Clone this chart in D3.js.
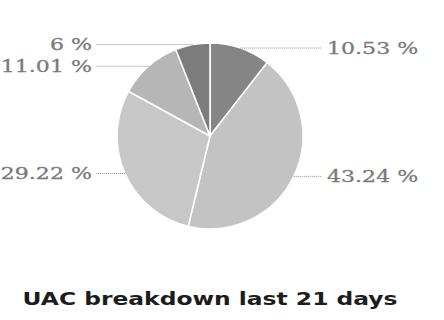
<!DOCTYPE html>
<html>
<head>
<meta charset="utf-8">
<script src="https://cdn.jsdelivr.net/npm/d3@7"></script>
<style>
  html, body { margin: 0; padding: 0; background: #ffffff; }
  svg { display: block; }
</style>
</head>
<body>
<svg id="chart" width="444" height="320"></svg>
<script>
// Share of each UAC category, clockwise from 12 o'clock
const labels = ["10.53 %", "43.24 %", "29.22 %", "11.01 %", "6 %"];
const shares = [10.53, 43.24, 29.22, 11.01, 6];
const sliceColors = ["#858585", "#c3c3c3", "#c7c7c7", "#b6b6b6", "#7c7c7c"];
const title = "UAC breakdown last 21 days";

const svg = d3.select("#chart");
const cx = 210, cy = 136, r = 93;
const stretch = 1.3;          // wide lettering used throughout
const leftEdge = 96, rightEdge = 322;

const pie = d3.pie().sort(null).value(d => d)(shares);
const arc = d3.arc().innerRadius(0).outerRadius(r);

const g = svg.append("g").attr("transform", `translate(${cx},${cy})`);

g.selectAll("path.slice")
  .data(pie)
  .join("path")
  .attr("class", "slice")
  .attr("d", arc)
  .attr("fill", (d, i) => sliceColors[i])
  .attr("stroke", "#ffffff")
  .attr("stroke-width", 1.6)
  .attr("stroke-linejoin", "round");

// Leader lines run horizontally from the middle of each slice's rim
const rimPoint = d => {
  const a = (d.startAngle + d.endAngle) / 2;
  return [cx + r * Math.sin(a), cy - r * Math.cos(a)];
};

const lab = svg.append("g");
pie.forEach((d, i) => {
  const [px, py] = rimPoint(d);
  const right = px >= cx;
  lab.append("line")
    .attr("x1", px).attr("y1", py)
    .attr("x2", right ? rightEdge : leftEdge).attr("y2", py)
    .attr("stroke", "#8f8f8f")
    .attr("stroke-width", 1)
    .attr("stroke-dasharray", "1,1");
  lab.append("text")
    .attr("transform", `translate(${right ? rightEdge + 5 : leftEdge - 4},${py + 5.5}) scale(${stretch},1)`)
    .attr("text-anchor", right ? "start" : "end")
    .attr("font-family", "DejaVu Serif")
    .attr("font-size", 17)
    .attr("fill", "#7a7a7a")
    .attr("stroke", "#7a7a7a")
    .attr("stroke-width", 0.3)
    .text(labels[i]);
});

svg.append("text")
  .attr("transform", `translate(210,305) scale(${stretch},1)`)
  .attr("text-anchor", "middle")
  .attr("font-family", "DejaVu Sans")
  .attr("font-weight", "bold")
  .attr("font-size", 18)
  .attr("fill", "#1c1c1c")
  .text(title);
</script>
</body>
</html>
